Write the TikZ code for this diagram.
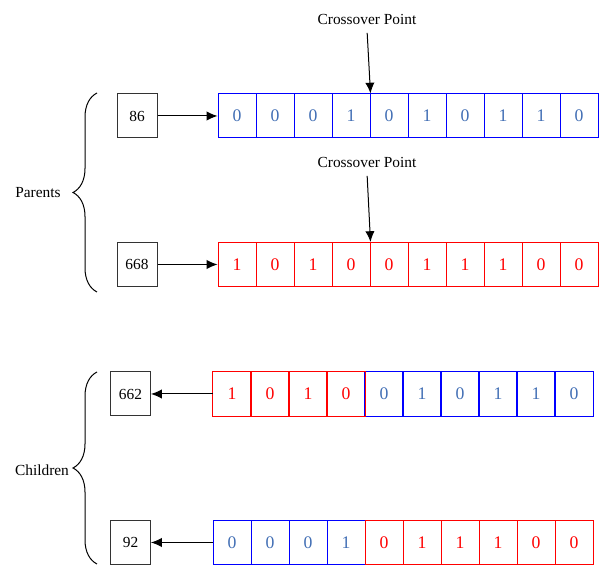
\documentclass[tikz,border=0pt]{standalone}
\usepackage{fontspec}
\setmainfont{Liberation Serif}
\usetikzlibrary{arrows.meta,decorations.pathreplacing}
\definecolor{bitblue}{RGB}{0,0,255}
\definecolor{digblue}{RGB}{65,110,180}
\definecolor{bitred}{RGB}{255,0,0}

\begin{document}
\begin{tikzpicture}[x=0.65pt,y=-0.65pt,>={Latex[length=7pt,width=6pt]},line width=0.65pt,
  num/.style={draw=black!80,minimum width=26pt,minimum height=28.6pt,inner sep=0pt},
  bit/.style={minimum width=24.7pt,minimum height=28.6pt,inner sep=0pt,font=\fontsize{11.5}{13}\selectfont},
  bb/.style={bit,draw=bitblue,text=digblue},
  rb/.style={bit,draw=bitred,text=bitred},
  tb/.style={bit,text=digblue},
  tr/.style={bit,text=bitred}]
\useasboundingbox (0,0) rectangle (601,565);

% parents
\node[num] (p1) at (137,116) {86};
\node[num] (p2) at (137,264.5) {668};
\foreach \v [count=\i] in {0,0,0,1,0,1,0,1,1,0}
  \node[bb] (a\i) at (199+38*\i,116) {\v};
\foreach \v [count=\i] in {1,0,1,0,0,1,1,1,0,0}
  \node[rb] (b\i) at (199+38*\i,264.5) {\v};

% children
\node[num] (k1) at (130.5,394) {662};
\node[num] (k2) at (130.5,542.5) {92};
\foreach \i/\v in {1/1,2/0,3/1,4/0}
  \node[tr] (u\i) at (194+38*\i,394) {\v};
\foreach \i/\v in {5/0,6/1,7/0,8/1,9/1,10/0}
  \node[tb] (u\i) at (194+38*\i,394) {\v};
\foreach \i in {5,...,10}
  \draw[bitblue] (u\i.north west) rectangle (u\i.south east);
\foreach \i in {1,...,4}
  \draw[bitred] (u\i.north west) rectangle (u\i.south east);
\foreach \i/\v in {1/0,2/0,3/0,4/1}
  \node[bb] (w\i) at (194+38*\i,542.5) {\v};
\foreach \i/\v in {5/0,6/1,7/1,8/1,9/0,10/0}
  \node[rb] (w\i) at (194+38*\i,542.5) {\v};

\node (cp1) at (367,19) {Crossover Point};
\node (cp2) at (367,162) {Crossover Point};
\node (par) at (38,193) {Parents};
\node (chi) at (42,470) {Children};

\draw [->] (p1) -- (a1);
\draw [->] (p2) -- (b1);
\draw [->] (u1) -- (k1);
\draw [->] (w1) -- (k2);
\draw [->,shorten <=2pt] (cp1.south) -- (a4.north east);
\draw [->,shorten <=2pt] (cp2.south) -- (b4.north east);
\draw [decorate,decoration={brace,amplitude=15.6pt}] (97,292) -- (97,93);
\draw [decorate,decoration={brace,amplitude=15.6pt}] (97,564) -- (97,372);
    %
\end{tikzpicture}
\end{document}
